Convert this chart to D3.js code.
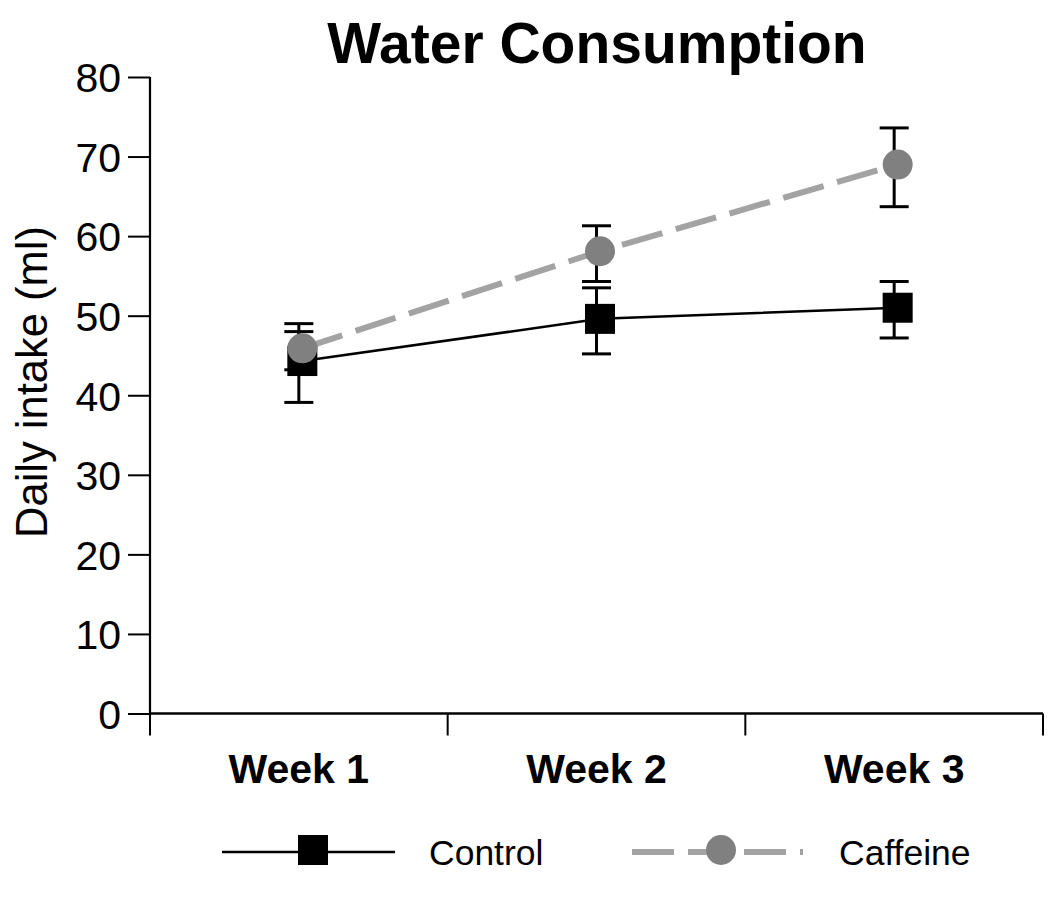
<!DOCTYPE html>
<html>
<head>
<meta charset="utf-8">
<script src="https://cdn.jsdelivr.net/npm/d3@7"></script>
<style>
  html, body { margin: 0; padding: 0; background: #fff; }
  svg { display: block; font-family: Arial, "Liberation Sans", sans-serif; }
</style>
</head>
<body>
<svg id="chart" width="1050" height="908"></svg>
<script>
// ---- data ----
const categories = ["Week 1", "Week 2", "Week 3"];
const controlMean  = [44.3, 49.6, 51.0];
const controlUpper = [48.0, 53.5, 54.3];
const controlLower = [39.1, 45.2, 47.2];
const caffeineMean  = [45.9, 58.1, 69.0];
const caffeineUpper = [49.0, 61.3, 73.6];
const caffeineLower = [43.2, 54.3, 63.7];
const yTicks = [0, 10, 20, 30, 40, 50, 60, 70, 80];
const seriesNames = ["Control", "Caffeine"];
const titleText = "Water Consumption";
const yLabelText = "Daily intake (ml)";

(function () {
// ---- layout ----
const svg = d3.select("#chart");
const pLeft = 150, pRight = 1043, pTop = 77, pBottom = 713.5;
const x = d3.scaleBand().domain(categories).range([pLeft, pRight]).padding(0);
const y = d3.scaleLinear().domain([0, 80]).range([pBottom, pTop]);
const cx = c => x(c) + x.bandwidth() / 2;
const markerShift = 3.5;

// title
svg.append("text").attr("x", 597).attr("y", 63).attr("text-anchor", "middle")
  .attr("font-size", 57).attr("font-weight", "bold").text(titleText);

// y axis
const yAxis = d3.axisLeft(y).tickValues(yTicks).tickSize(22).tickPadding(7);
const gy = svg.append("g").attr("transform", `translate(${pLeft},0)`).call(yAxis);
gy.select(".domain").attr("stroke", "#000").attr("stroke-width", 2.2)
  .attr("d", `M0,${pBottom}V${pTop}`);
gy.selectAll(".tick line").attr("stroke", "#000").attr("stroke-width", 2);
gy.selectAll(".tick text").attr("font-size", 41).attr("fill", "#000")
  .attr("font-family", "Arial, 'Liberation Sans', sans-serif").attr("dy", "0.36em");

// x axis (ticks at band boundaries)
const gx = svg.append("g").attr("transform", `translate(0,${pBottom})`);
gx.append("path").attr("d", `M${pLeft},0H${pRight}`).attr("stroke", "#000").attr("stroke-width", 2.5);
const boundaries = categories.map(c => x(c)).concat([x(categories[categories.length - 1]) + x.bandwidth()]);
gx.selectAll("line.tk").data(boundaries).join("line").attr("class", "tk")
  .attr("x1", d => d).attr("x2", d => d).attr("y1", 0).attr("y2", 22)
  .attr("stroke", "#000").attr("stroke-width", 2);
gx.selectAll("text.lab").data(categories).join("text").attr("class", "lab")
  .attr("x", d => cx(d)).attr("y", 69).attr("text-anchor", "middle")
  .attr("font-size", 41).attr("font-weight", "bold").text(d => d);

// y label
svg.append("text").attr("transform", "translate(47,382) rotate(-90)")
  .attr("text-anchor", "middle").attr("font-size", 43.5).text(yLabelText);

// lines
const ctrlPts = categories.map((c, i) => [cx(c) + markerShift, y(controlMean[i])]);
const cafPts = categories.map((c, i) => [cx(c) + markerShift, y(caffeineMean[i])]);
const line = d3.line();
svg.append("path").attr("d", line(cafPts)).attr("fill", "none")
  .attr("stroke", "#a3a3a3").attr("stroke-width", 6).attr("stroke-dasharray", "42,14");
svg.append("path").attr("d", line(ctrlPts)).attr("fill", "none")
  .attr("stroke", "#000").attr("stroke-width", 2.5);

// error bars
function errBars(lower, upper) {
  const g = svg.append("g").attr("stroke", "#000").attr("stroke-width", 3);
  categories.forEach((c, i) => {
    const xc = cx(c);
    g.append("line").attr("x1", xc).attr("x2", xc).attr("y1", y(lower[i])).attr("y2", y(upper[i]));
    [lower[i], upper[i]].forEach(v => {
      g.append("line").attr("x1", xc - 14.5).attr("x2", xc + 14.5).attr("y1", y(v)).attr("y2", y(v));
    });
  });
}
errBars(controlLower, controlUpper);
errBars(caffeineLower, caffeineUpper);

// markers
svg.append("g").selectAll("rect").data(ctrlPts).join("rect")
  .attr("x", d => d[0] - 15).attr("y", d => d[1] - 15).attr("width", 30).attr("height", 30).attr("fill", "#000");
svg.append("g").selectAll("circle").data(cafPts).join("circle")
  .attr("cx", d => d[0]).attr("cy", d => d[1]).attr("r", 15).attr("fill", "#808080");

// legend
const lg = svg.append("g");
const ly = 852;
lg.append("line").attr("x1", 222).attr("x2", 395).attr("y1", ly).attr("y2", ly)
  .attr("stroke", "#000").attr("stroke-width", 2.5);
lg.append("rect").attr("x", 298).attr("y", ly - 17).attr("width", 30).attr("height", 30).attr("fill", "#000");
lg.append("text").attr("x", 429).attr("y", 865).attr("font-size", 35.5).text(seriesNames[0]);
lg.append("line").attr("x1", 632).attr("x2", 803).attr("y1", ly).attr("y2", ly)
  .attr("stroke", "#a3a3a3").attr("stroke-width", 6).attr("stroke-dasharray", "42,14");
lg.append("circle").attr("cx", 721).attr("cy", 850).attr("r", 15).attr("fill", "#808080");
lg.append("text").attr("x", 839).attr("y", 865).attr("font-size", 35.5).text(seriesNames[1]);
})();
</script>
</body>
</html>
